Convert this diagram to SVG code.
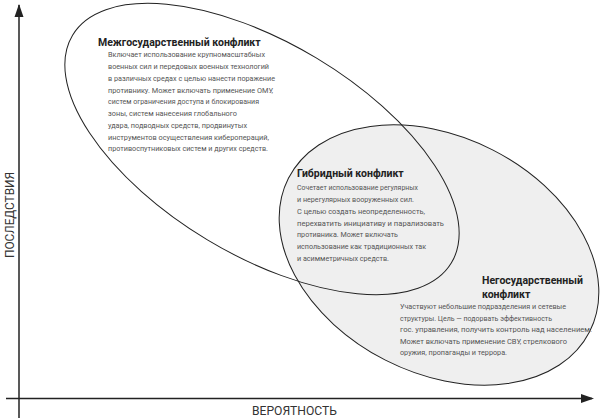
<svg xmlns="http://www.w3.org/2000/svg" width="600" height="418" viewBox="0 0 600 418">
<defs>
<style>
.bg{fill:#ffffff}
.shape{stroke:#222;stroke-width:1}
.grey{fill:#efefef}
.open{fill:none}
.title{font-family:Roboto,"Liberation Sans",sans-serif;font-weight:bold;font-size:10.5px;fill:#222}
.body{font-family:Roboto,"Liberation Sans",sans-serif;font-size:8px;fill:#555}
.axis{stroke:#222;stroke-width:1.5;fill:none}
.axlabel{font-family:Roboto,"Liberation Sans",sans-serif;font-size:12px;fill:#333}
</style>
</defs>
<rect class="bg" x="0" y="0" width="600" height="418"/>
<g id="connectors">
<line class="axis" x1="19" y1="418" x2="19" y2="5"/>
<path d="M19,4 L14.5,17 L23.5,17 Z" fill="#222"/>
<line class="axis" x1="6" y1="398.5" x2="592" y2="398.5"/>
<path d="M594,398.5 L581,394 L581,403 Z" fill="#222"/>
<text class="axlabel" transform="translate(14,215) rotate(-90)" text-anchor="middle" textLength="86" lengthAdjust="spacingAndGlyphs">ПОСЛЕДСТВИЯ</text>
<text class="axlabel" x="294.5" y="415" text-anchor="middle" textLength="85" lengthAdjust="spacingAndGlyphs">ВЕРОЯТНОСТЬ</text>
</g>
<g id="nonstate">
<ellipse class="shape grey" cx="439" cy="255" rx="169" ry="118" transform="rotate(27 439 255)"/>
<text class="title" x="482" y="284">Негосударственный</text>
<text class="title" x="482" y="298">конфликт</text>
<text class="body" x="400" y="309" textLength="166" lengthAdjust="spacingAndGlyphs">Участвуют небольшие подразделения и сетевые</text>
<text class="body" x="400" y="320.5" textLength="152" lengthAdjust="spacingAndGlyphs">структуры. Цель — подорвать эффективность</text>
<text class="body" x="400" y="332" textLength="192" lengthAdjust="spacingAndGlyphs">гос. управления, получить контроль над населением.</text>
<text class="body" x="400" y="343.5" textLength="167" lengthAdjust="spacingAndGlyphs">Может включать применение СВУ, стрелкового</text>
<text class="body" x="400" y="355" textLength="107" lengthAdjust="spacingAndGlyphs">оружия, пропаганды и террора.</text>
</g>
<g id="interstate">
<ellipse class="shape open" cx="262" cy="149" rx="221" ry="106" transform="rotate(31 262 149)"/>
<text class="title" x="98" y="46">Межгосударственный конфликт</text>
<text class="body" x="108" y="57" textLength="157" lengthAdjust="spacingAndGlyphs">Включает использование крупномасштабных</text>
<text class="body" x="108" y="69" textLength="161" lengthAdjust="spacingAndGlyphs">военных сил и передовых военных технологий</text>
<text class="body" x="108" y="81" textLength="167" lengthAdjust="spacingAndGlyphs">в различных средах с целью нанести поражение</text>
<text class="body" x="108" y="92.5" textLength="165" lengthAdjust="spacingAndGlyphs">противнику. Может включать применение ОМУ,</text>
<text class="body" x="108" y="104" textLength="151" lengthAdjust="spacingAndGlyphs">систем ограничения доступа и блокирования</text>
<text class="body" x="108" y="116" textLength="129" lengthAdjust="spacingAndGlyphs">зоны, систем нанесения глобального</text>
<text class="body" x="108" y="128" textLength="139" lengthAdjust="spacingAndGlyphs">удара, подводных средств, продвинутых</text>
<text class="body" x="108" y="139.5" textLength="161" lengthAdjust="spacingAndGlyphs">инструментов осуществления киберопераций,</text>
<text class="body" x="108" y="151" textLength="160" lengthAdjust="spacingAndGlyphs">противоспутниковых систем и других средств.</text>
</g>
<g id="hybrid">
<text class="title" x="297" y="177">Гибридный конфликт</text>
<text class="body" x="297" y="190" textLength="121" lengthAdjust="spacingAndGlyphs">Сочетает использование регулярных</text>
<text class="body" x="297" y="202" textLength="117" lengthAdjust="spacingAndGlyphs">и нерегулярных вооруженных сил.</text>
<text class="body" x="297" y="214" textLength="128" lengthAdjust="spacingAndGlyphs">С целью создать неопределенность,</text>
<text class="body" x="297" y="225.5" textLength="147" lengthAdjust="spacingAndGlyphs">перехватить инициативу и парализовать</text>
<text class="body" x="297" y="237" textLength="101" lengthAdjust="spacingAndGlyphs">противника. Может включать</text>
<text class="body" x="297" y="249" textLength="129" lengthAdjust="spacingAndGlyphs">использование как традиционных так</text>
<text class="body" x="297" y="260.5" textLength="92" lengthAdjust="spacingAndGlyphs">и асимметричных средств.</text>
</g>
</svg>
